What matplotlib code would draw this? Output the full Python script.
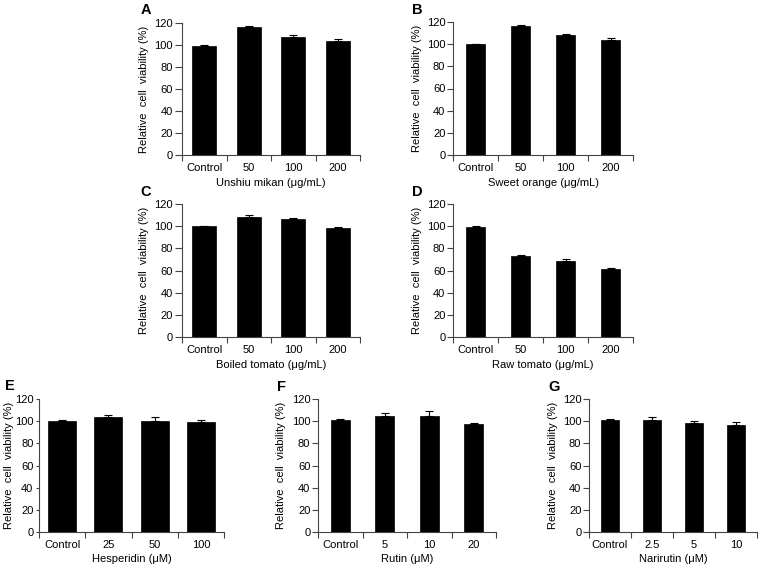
import matplotlib
matplotlib.use("Agg")
import matplotlib.pyplot as plt
import numpy as np

plt.rcParams["font.family"] = ["Liberation Sans", "DejaVu Sans"]

W, H = 774, 568

# panel data
labels_A = ["Control", "50", "100", "200"]
vals_A = [99.5, 116, 107.5, 103.5]
err_A = [0.5, 1.2, 2.0, 2.0]

labels_B = ["Control", "50", "100", "200"]
vals_B = [100, 116, 108, 104]
err_B = [0.5, 1.0, 1.5, 2.0]

labels_C = ["Control", "50", "100", "200"]
vals_C = [100, 108.5, 106.5, 98.5]
err_C = [0.5, 1.5, 0.5, 1.0]

labels_D = ["Control", "50", "100", "200"]
vals_D = [99.5, 73.5, 69, 61.5]
err_D = [0.3, 0.7, 1.2, 1.2]

labels_E = ["Control", "25", "50", "100"]
vals_E = [100, 103.5, 100.5, 99]
err_E = [1.5, 1.7, 3.0, 2.5]

labels_F = ["Control", "5", "10", "20"]
vals_F = [101, 105, 104.5, 97.5]
err_F = [0.7, 2.2, 4.5, 0.8]

labels_G = ["Control", "2.5", "5", "10"]
vals_G = [101.5, 101, 98.5, 96.5]
err_G = [0.8, 2.8, 1.2, 3.0]

xlabels = {
    "A": "Unshiu mikan (\u03bcg/mL)",
    "B": "Sweet orange (\u03bcg/mL)",
    "C": "Boiled tomato (\u03bcg/mL)",
    "D": "Raw tomato (\u03bcg/mL)",
    "E": "Hesperidin (\u03bcM)",
    "F": "Rutin (\u03bcM)",
    "G": "Narirutin (\u03bcM)",
}

# axes box in px (left, right, top, bottom), letter pos, ylabel offset, bar width, tick len
panels = [
    ("A", labels_A, vals_A, err_A, (182, 360, 23, 155), (146, 10), 38, 0.54, 5),
    ("B", labels_B, vals_B, err_B, (453, 633, 22, 155), (417, 10), 36, 0.42, 4),
    ("C", labels_C, vals_C, err_C, (182, 360, 204, 337), (146, 192), 38, 0.54, 5),
    ("D", labels_D, vals_D, err_D, (453, 633, 204, 337), (417, 192), 36, 0.42, 4),
    ("E", labels_E, vals_E, err_E, (39, 224, 399, 532), (10, 386), 30, 0.61, 2.5),
    ("F", labels_F, vals_F, err_F, (318, 496, 399, 532), (282, 387), 37, 0.43, 4),
    ("G", labels_G, vals_G, err_G, (589, 757, 399, 532), (554, 387), 36, 0.45, 4),
]

fig = plt.figure(figsize=(W / 100, H / 100), dpi=100)
fs = 8
axc = "#444444"

for letter, labs, vals, errs, (l, r, t, b), (lx, ly), yoff, bw, tl in panels:
    ax = fig.add_axes([l / W, 1 - b / H, (r - l) / W, (b - t) / H])
    x = np.arange(len(labs))
    ax.bar(x, vals, width=bw, color="black", edgecolor="black", linewidth=0.5)
    ax.errorbar(x, vals, yerr=[np.zeros(len(errs)), errs], fmt="none",
                ecolor="black", elinewidth=0.8, capsize=3, capthick=0.8)
    ax.set_xlim(-0.5, len(labs) - 0.5)
    ax.set_ylim(0, 120)
    ax.set_yticks(np.arange(0, 121, 20))
    ax.set_xticks(x)
    ax.set_xticklabels(labs, fontsize=fs)
    ax.set_xticks(np.arange(len(labs) + 1) - 0.5, minor=True)
    ax.tick_params(axis="x", which="major", length=0, pad=6)
    ax.tick_params(axis="x", which="minor", length=4, width=0.8, color=axc)
    ax.tick_params(axis="y", length=tl, width=0.8, color=axc, labelsize=fs, pad=1.5)
    for s in ["top", "right"]:
        ax.spines[s].set_visible(False)
    for s in ["left", "bottom"]:
        ax.spines[s].set_color(axc)
        ax.spines[s].set_linewidth(0.8)
    ax.set_ylabel("Relative  cell  viability (%)", fontsize=fs, va="center")
    ax.yaxis.set_label_coords(-yoff / (r - l), 0.5)
    ax.set_xlabel(xlabels[letter], fontsize=fs, labelpad=3)
    fig.text(lx / W, 1 - ly / H, letter, fontsize=10.5, fontweight="bold",
             ha="center", va="center")

fig.savefig("out.png", dpi=100)
